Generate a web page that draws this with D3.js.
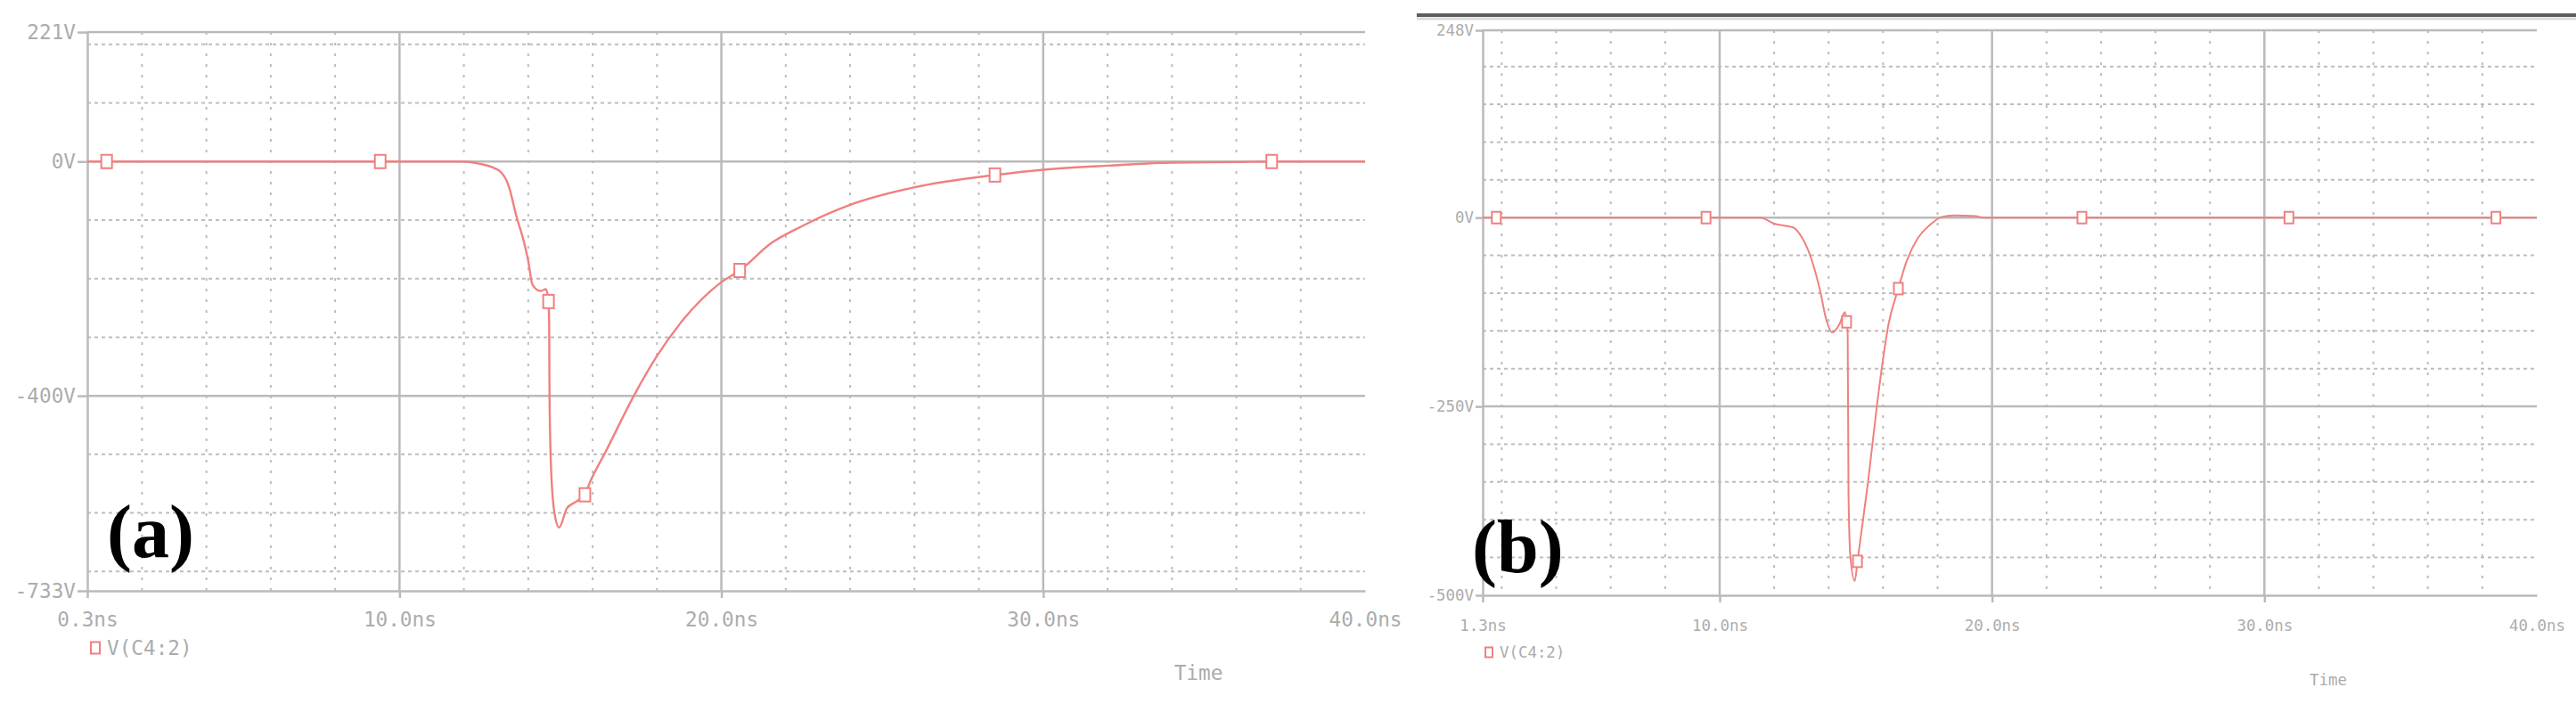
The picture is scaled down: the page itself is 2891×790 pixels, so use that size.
<!DOCTYPE html>
<meta charset="utf-8">
<style>
    body { margin: 0; background: #fff; }
    .axis path, .axis line { stroke: #bababa; stroke-width: 2.5; fill: none; }
    .axis text, .label { fill: #acacac; font-family: "DejaVu Sans Mono", monospace; }
    .grid-minor { stroke: #bdbdbd; stroke-width: 2; }
    .grid-major { stroke: #bababa; stroke-width: 2.5; }
    .trace { fill: none; stroke: #f08080; stroke-linejoin: round; }
    .marker { fill: #fff; stroke: #f08080; stroke-width: 2; }
    .tag { font-family: "Liberation Serif", "Times New Roman", serif; font-weight: bold; fill: #000; }
</style>

<body>
    <svg id="chart" width="2891" height="790"></svg>
</body>
<script src="https://cdn.jsdelivr.net/npm/d3@7"></script>
<script>
    // ---- panel (a) ----
    var timeA = [0.3, 9.4, 12.0, 12.5, 13.08, 13.4, 13.63, 13.85, 14.0, 14.13, 14.38, 14.55, 14.63, 14.65, 14.66,
        14.71, 14.82, 14.96, 15.2, 15.48, 15.76, 15.93, 16.4, 17.3, 18.0, 18.8, 20.0, 20.57, 21.56, 22.48,
        24.0, 26.0, 28.5, 30.0, 32.0, 34.0, 36.0, 37.1, 40.0];
    var voltA = [0, 0, 0, -4, -15, -43, -93, -134, -170, -210, -221, -218, -239, -282, -398,
        -526, -602, -625, -592, -581, -569, -546, -496, -398, -332, -271, -206, -186, -139, -111,
        -74, -44, -23, -14, -7, -2, -1, 0, 0];
    var markTimeA = [0.9, 9.4, 14.63, 15.76, 20.57, 28.5, 37.1];
    var markVoltA = [0, 0, -239, -569, -186, -23, 0];
    var yTickA = [221, 0, -400, -733];
    var yTextA = ["221V", "0V", "-400V", "-733V"];
    var yMajorA = [0, -400];
    var yGridA = [200, 100, -100, -200, -300, -500, -600, -700];
    var xTickA = [0.3, 10, 20, 30, 40];
    var xTextA = ["0.3ns", "10.0ns", "20.0ns", "30.0ns", "40.0ns"];

    // ---- panel (b) ----
    var timeB = [1.3, 11.5, 12.0, 12.7, 13.03, 13.36, 13.69, 13.9, 14.14, 14.4, 14.6, 14.66, 14.7, 14.73,
        14.8, 14.96, 15.06, 15.16, 15.45, 15.78, 15.98, 16.2, 16.56, 16.86, 17.28, 17.74, 18.16, 18.6,
        19.4, 19.7, 40.0];
    var voltB = [0, 0, -8, -13, -27, -54, -97, -133, -152, -141, -125, -138, -152, -365,
        -449, -481, -455, -428, -349, -247, -192, -141, -94, -58, -27, -9, 1, 3,
        2, 0, 0];
    var markTimeB = [1.8, 9.5, 14.66, 15.06, 16.56, 23.3, 30.9, 38.5];
    var markVoltB = [0, 0, -138, -455, -94, 0, 0, 0];
    var yTickB = [248, 0, -250, -500];
    var yTextB = ["248V", "0V", "-250V", "-500V"];
    var yMajorB = [0, -250];
    var yGridB = [200, 150, 100, 50, -50, -100, -150, -200, -300, -350, -400, -450];
    var xTickB = [1.3, 10, 20, 30, 40];
    var xTextB = ["1.3ns", "10.0ns", "20.0ns", "30.0ns", "40.0ns"];

    // shared
    var xMajor = [10, 20, 30];
    var xGrid = [2, 4, 6, 8, 12, 14, 16, 18, 22, 24, 26, 28, 32, 34, 36, 38];
    var traceName = "V(C4:2)";

    var svg = d3.select("#chart");

    function drawPanel(o) {
        var x = d3.scaleLinear().domain([o.xTick[0], 40]).range(o.xRange);
        var y = d3.scaleLinear().domain([o.yTick[3], o.yTick[0]]).range(o.yRange);
        var x0 = o.xRange[0], x1 = o.xRange[1], yb = o.yRange[0], yt = o.yRange[1];
        var g = svg.append("g");

        // dotted grid
        g.selectAll(".vgrid").data(xGrid).enter().append("line")
            .attr("class", "grid-minor")
            .attr("x1", x).attr("x2", x)
            .attr("y1", yt).attr("y2", yb)
            .style("stroke-dasharray", "3,9");
        g.selectAll(".hgrid").data(o.yGrid).enter().append("line")
            .attr("class", "grid-minor")
            .attr("x1", x0).attr("x2", x1)
            .attr("y1", y).attr("y2", y)
            .style("stroke-dasharray", "4,4");

        // solid major lines
        g.selectAll(".vmaj").data(xMajor).enter().append("line")
            .attr("class", "grid-major")
            .attr("x1", x).attr("x2", x)
            .attr("y1", yt).attr("y2", yb);
        g.selectAll(".hmaj").data(o.yMajor.concat([o.yTick[0]])).enter().append("line")
            .attr("class", "grid-major")
            .attr("x1", x0).attr("x2", x1)
            .attr("y1", y).attr("y2", y);

        // axes
        var xa = g.append("g")
            .attr("class", "axis")
            .attr("transform", "translate(0," + yb + ")")
            .call(d3.axisBottom(x).tickValues(o.xTick)
                .tickFormat(function (d, i) { return o.xText[i]; })
                .tickSize(8).tickPadding(o.xPad).tickSizeOuter(0));
        xa.selectAll(".tick line").filter(function (d) { return d === 40; }).remove();
        xa.selectAll("text").style("font-size", o.fs + "px");

        var ya = g.append("g")
            .attr("class", "axis")
            .attr("transform", "translate(" + x0 + ",0)")
            .call(d3.axisLeft(y).tickValues(o.yTick)
                .tickFormat(function (d, i) { return o.yText[i]; })
                .tickSize(o.yTickLen).tickPadding(2).tickSizeOuter(0));
        ya.selectAll("text").style("font-size", o.fs + "px");

        // trace
        var line = d3.line()
            .x(function (d) { return x(d[0]); })
            .y(function (d) { return y(d[1]); })
            .curve(d3.curveMonotoneX);
        g.append("path")
            .datum(d3.zip(o.t, o.v))
            .attr("class", "trace")
            .style("stroke-width", o.lw)
            .attr("d", line);

        g.selectAll(".marker").data(d3.zip(o.mt, o.mv)).enter().append("rect")
            .attr("class", "marker")
            .attr("width", o.mw).attr("height", o.mh)
            .attr("x", function (d) { return x(d[0]) - o.mw / 2; })
            .attr("y", function (d) { return y(d[1]) - o.mh / 2; });

        // legend
        g.append("rect")
            .attr("class", "marker")
            .attr("width", o.lgw).attr("height", o.lgh)
            .attr("x", o.legend[0] - o.lgw / 2)
            .attr("y", o.legend[1] - o.lgh / 2);
        g.append("text")
            .attr("class", "label")
            .attr("x", o.legend[0] + o.lgw / 2 + 8)
            .attr("y", o.legend[1])
            .attr("dy", "0.36em")
            .style("font-size", o.fs + "px")
            .text(traceName);

        g.append("text")
            .attr("class", "label")
            .attr("x", o.timePos[0])
            .attr("y", o.timePos[1])
            .attr("dy", "0.36em")
            .style("text-anchor", "middle")
            .style("font-size", o.fs + "px")
            .text("Time");

        g.append("text")
            .attr("class", "tag")
            .attr("x", o.tagPos[0])
            .attr("y", o.tagPos[1])
            .style("font-size", "84px")
            .text(o.tag);
    }

    drawPanel({
        t: timeA, v: voltA, mt: markTimeA, mv: markVoltA,
        yTick: yTickA, yText: yTextA, yMajor: yMajorA, yGrid: yGridA,
        xTick: xTickA, xText: xTextA,
        xRange: [98, 1532], yRange: [663, 36],
        fs: 22.7, xPad: 16, yTickLen: 11, lw: 2.4,
        mw: 12, mh: 15, lgw: 10, lgh: 13,
        legend: [107, 727], timePos: [1345, 755],
        tag: "(a)", tagPos: [120, 625]
    });

    drawPanel({
        t: timeB, v: voltB, mt: markTimeB, mv: markVoltB,
        yTick: yTickB, yText: yTextB, yMajor: yMajorB, yGrid: yGridB,
        xTick: xTickB, xText: xTextB,
        xRange: [1664, 2847], yRange: [668, 34],
        fs: 17.4, xPad: 20, yTickLen: 8, lw: 2,
        mw: 10, mh: 13, lgw: 8, lgh: 11,
        legend: [1671, 732], timePos: [2613, 763],
        tag: "(b)", tagPos: [1652, 642]
    });

    // window edge above panel (b)
    svg.append("line")
        .attr("x1", 1590).attr("x2", 2891)
        .attr("y1", 17).attr("y2", 17)
        .style("stroke", "#5e5e5e").style("stroke-width", 4);
    svg.append("line")
        .attr("x1", 1590).attr("x2", 2891)
        .attr("y1", 21).attr("y2", 21)
        .style("stroke", "#dcdcdc").style("stroke-width", 3);
</script>
